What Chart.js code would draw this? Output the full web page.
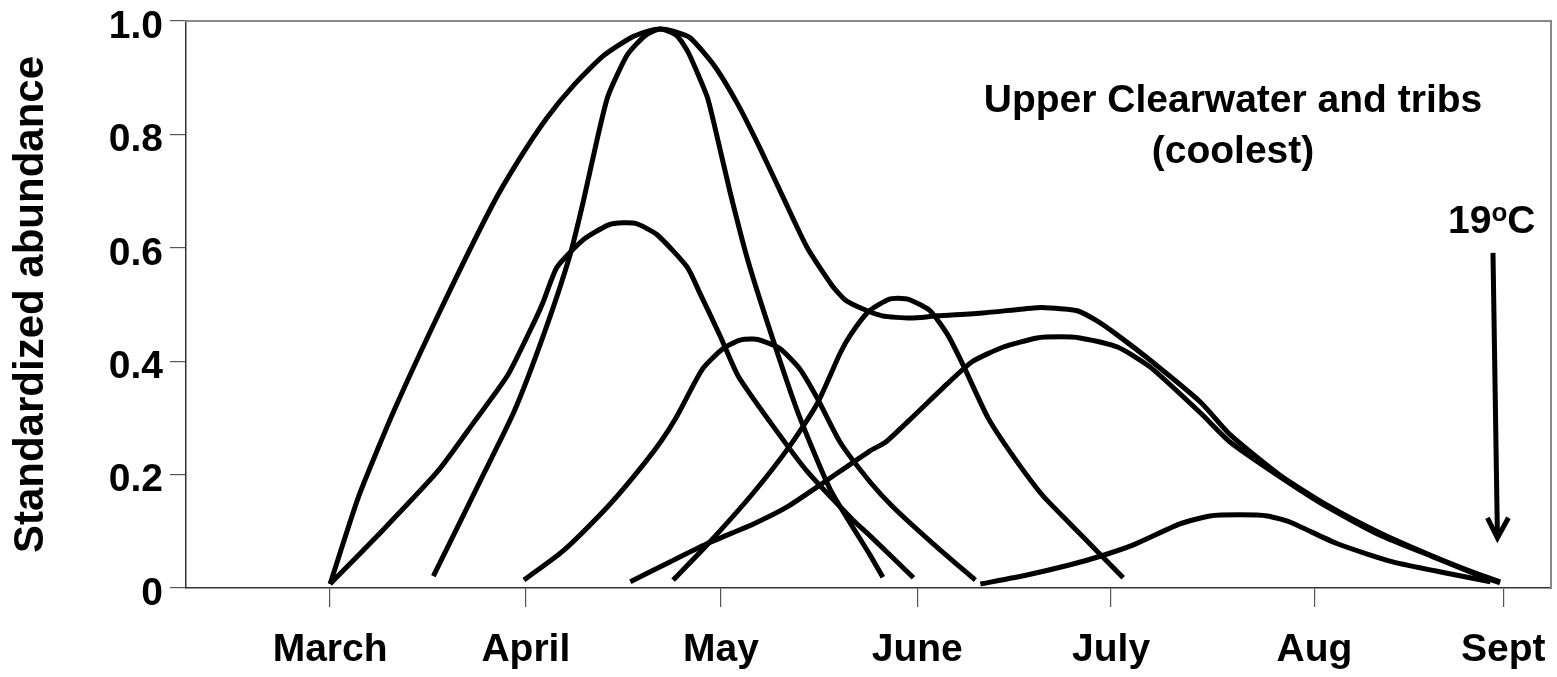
<!DOCTYPE html>
<html><head><meta charset="utf-8">
<script src="https://cdn.jsdelivr.net/npm/chart.js@4.4.0/dist/chart.umd.min.js"></script>
<style>html,body{margin:0;padding:0;background:#fff;}#wrap{width:1557px;height:677px;}</style>
</head><body><div id="wrap"><canvas id="c" width="1557" height="677"></canvas></div>
<script>
// x unit: approx. days after 1 March
const monthLabels = ['March','April','May','June','July','Aug','Sept'];
const monthTicks = [0, 30.7, 61.3, 92.1, 122.5, 154.4, 184];
const yTicks = [0, 0.2, 0.4, 0.6, 0.8, 1.0];
const yTickLabels = ['0', '0.2', '0.4', '0.6', '0.8', '1.0'];

const wideX = [0,4.5,10.0,17.4,25.3,29.6,34.0,38.4,42.8,47.1,49.9,51.8,53.8,56.5,60.4,64.0,67.5,71.1,74.8,78.7,80.8,83.6,86.6,91.0,95.2,102.4,110.3,112.9,117.2,120.3,123.5,128.6,136.5,141.2,149.0,156.4,164.7,173.0,180.4,183.5];
const wideY = [0.007,0.162,0.312,0.492,0.672,0.755,0.829,0.889,0.938,0.970,0.982,0.986,0.982,0.970,0.919,0.852,0.774,0.688,0.601,0.534,0.508,0.492,0.480,0.476,0.480,0.485,0.494,0.494,0.489,0.471,0.446,0.402,0.328,0.270,0.199,0.146,0.097,0.056,0.023,0.011];

const earlyX = [0,7.5,16.9,22.6,27.9,32.3,33.4,35.6,39.7,43.6,46.0,48.2,51.3,56.0,58.0,61.2,64.0,69.0,74.8,82.0,84.7,91.5];
const earlyY = [0.007,0.093,0.206,0.293,0.376,0.476,0.504,0.566,0.614,0.640,0.644,0.642,0.623,0.566,0.520,0.444,0.374,0.293,0.206,0.120,0.092,0.018];

const narrowX = [16.2,24.0,28.9,33.7,37.6,39.7,42.0,43.6,46.6,49.4,51.8,54.4,56.2,59.1,60.1,62.7,65.6,69.5,73.4,78.4,84.7,86.7];
const narrowY = [0.021,0.199,0.312,0.453,0.586,0.681,0.797,0.868,0.940,0.974,0.986,0.974,0.944,0.868,0.825,0.700,0.575,0.437,0.309,0.175,0.058,0.019];

const midX = [30.4,36.5,43.5,47.8,51.8,54.4,58.4,61.6,64.3,66.4,67.8,70.6,73.7,76.4,80.0,84.7,88.3,94.6,101.2];
const midY = [0.014,0.065,0.143,0.199,0.257,0.303,0.386,0.422,0.437,0.439,0.436,0.422,0.386,0.335,0.257,0.187,0.143,0.078,0.014];

const juneX = [53.8,59.3,66.4,72.2,76.4,80.0,81.6,84.4,87.4,89.1,91.0,94.1,96.9,99.3,103.2,107.1,111.7,116.1,120.3,124.4];
const juneY = [0.014,0.078,0.168,0.252,0.325,0.414,0.446,0.487,0.508,0.511,0.508,0.489,0.446,0.393,0.300,0.233,0.164,0.113,0.065,0.018];

const lateX = [47.1,53.3,59.1,66.4,71.7,76.9,84.7,87.1,91.5,96.8,100.7,105.6,110.9,114.5,117.6,123.5,128.6,136.5,141.2,149.0,156.4,164.7,173.0,180.4,183.5];
const lateY = [0.011,0.046,0.078,0.113,0.143,0.182,0.242,0.257,0.303,0.360,0.399,0.425,0.441,0.443,0.441,0.425,0.390,0.309,0.257,0.196,0.143,0.093,0.055,0.021,0.009];

const smallX = [102.0,109.3,116.1,120.8,126.0,133.3,138.0,142.7,147.0,150.6,158.0,166.7,175.2,182.0];
const smallY = [0.007,0.023,0.041,0.056,0.076,0.113,0.127,0.129,0.127,0.116,0.078,0.046,0.026,0.011];

const seriesList = [[wideX,wideY],[earlyX,earlyY],[narrowX,narrowY],[midX,midY],[juneX,juneY],[lateX,lateY],[smallX,smallY]];

const FONT = '"Liberation Sans", Arial, Helvetica, sans-serif';
Chart.defaults.font.family = FONT;
Chart.defaults.color = '#000';

const notes = {
  id: 'notes',
  afterDatasetsDraw(chart) {
    const ctx = chart.ctx, xs = chart.scales.x, ys = chart.scales.y;
    ctx.save();
    ctx.fillStyle = '#000';
    ctx.textBaseline = 'alphabetic';
    ctx.textAlign = 'center';
    ctx.font = 'bold 39px ' + FONT;
    ctx.fillText('Upper Clearwater and tribs', 1233, 112);
    ctx.fillText('(coolest)', 1233, 163);
    // 19ºC with raised o
    ctx.textAlign = 'left';
    let x0 = 1448;
    ctx.font = 'bold 39px ' + FONT;
    ctx.fillText('19', x0, 233);
    x0 += ctx.measureText('19').width;
    ctx.font = 'bold 26px ' + FONT;
    ctx.fillText('o', x0, 221);
    x0 += ctx.measureText('o').width;
    ctx.font = 'bold 39px ' + FONT;
    ctx.fillText('C', x0, 233);
    // arrow
    const ax = xs.getPixelForValue(182.4), ay = ys.getPixelForValue(0.591);
    const bx = xs.getPixelForValue(183.1), by = ys.getPixelForValue(0.085);
    ctx.strokeStyle = '#000';
    ctx.lineWidth = 5;
    ctx.lineCap = 'butt';
    ctx.beginPath(); ctx.moveTo(ax, ay); ctx.lineTo(bx, by - 2); ctx.stroke();
    ctx.beginPath();
    ctx.moveTo(bx - 10, by - 22); ctx.lineTo(bx, by - 2); ctx.lineTo(bx + 11, by - 22);
    ctx.lineJoin = 'miter';
    ctx.stroke();
    ctx.restore();
  }
};

new Chart(document.getElementById('c'), {
  type: 'line',
  data: {
    datasets: seriesList.map(([xa, ya]) => ({
      data: xa.map((x, i) => ({x: x, y: ya[i]})),
      borderColor: '#000',
      borderWidth: 5,
      pointRadius: 0,
      fill: false,
      tension: 0.2,
      borderCapStyle: 'butt'
    }))
  },
  options: {
    responsive: false,
    animation: false,
    devicePixelRatio: 1,
    layout: {padding: {top: 21, right: 6, left: 0, bottom: 0}},
    plugins: {legend: {display: false}, tooltip: {enabled: false}},
    scales: {
      x: {
        type: 'linear', position: 'bottom', min: -22.6, max: 191.5,
        afterBuildTicks: s => { s.ticks = monthTicks.map(v => ({value: v})); },
        ticks: {callback: (v, i) => monthLabels[i], font: {size: 39, weight: 'bold'}, color: '#000', padding: 20, maxRotation: 0, autoSkip: false},
        grid: {drawOnChartArea: false, drawTicks: true, tickLength: 19, color: '#555', lineWidth: 1.2},
        border: {display: true, color: '#333', width: 1.5},
        afterFit: s => { s.height = 89; s.paddingLeft = 0; s.paddingRight = 0; }
      },
      y: {
        type: 'linear', position: 'left', min: 0, max: 1,
        afterBuildTicks: s => { s.ticks = yTicks.map(v => ({value: v})); },
        ticks: {callback: (v, i) => yTickLabels[i], font: {size: 39, weight: 'bold'}, color: '#000', padding: 7, labelOffset: 6},
        grid: {drawOnChartArea: false, drawTicks: true, tickLength: 16, color: '#555', lineWidth: 1.2},
        border: {display: true, color: '#333', width: 1.5},
        title: {display: true, text: 'Standardized abundance', font: {size: 42, weight: 'bold'}, color: '#000', padding: {top: 6, bottom: 0}},
        afterFit: s => { s.width = 186; s.paddingTop = 0; s.paddingBottom = 0; }
      },
      xTop: {
        type: 'linear', position: 'top', display: true, min: -22.6, max: 191.5,
        grid: {display: false}, ticks: {display: false},
        border: {display: true, color: '#888', width: 2},
        afterFit: s => { s.height = 0; s.paddingLeft = 0; s.paddingRight = 0; }
      },
      yRight: {
        type: 'linear', position: 'right', display: true, min: 0, max: 1,
        grid: {display: false}, ticks: {display: false},
        border: {display: true, color: '#888', width: 2},
        afterFit: s => { s.width = 0; s.paddingTop = 0; s.paddingBottom = 0; }
      }
    }
  },
  plugins: [notes]
});
</script>
</body></html>
